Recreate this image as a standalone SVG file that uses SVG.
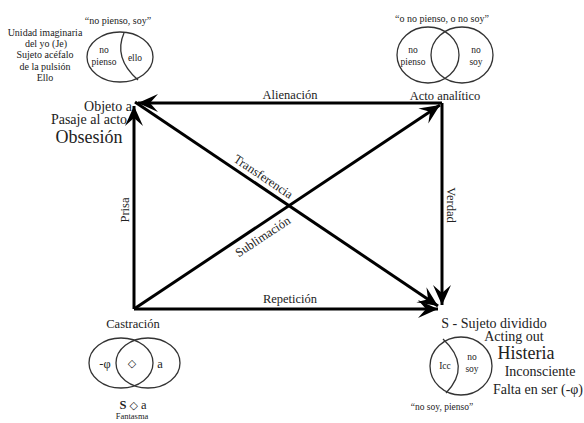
<svg xmlns="http://www.w3.org/2000/svg" width="584" height="423" viewBox="0 0 584 423" font-family="'Liberation Serif', 'Times New Roman', 'DejaVu Serif', serif">
<style>
text{font-family:"Liberation Serif","Times New Roman","DejaVu Serif",serif;fill:#222;}
.c{fill:none;stroke:#333;stroke-width:1.3;}
.e{stroke:#000;stroke-width:3;fill:none;}
.s9{font-size:9.5px;}
.s10{font-size:10px;}
.s12{font-size:12.5px;}
.s14{font-size:14px;}
.s18{font-size:18px;}
.dm{font-family:"DejaVu Sans",sans-serif;font-size:11px;}
</style>
<defs>
<marker id="ah" markerUnits="userSpaceOnUse" markerWidth="26" markerHeight="22" viewBox="-22 -11 26 22" refX="0" refY="0" orient="auto">
<path d="M0,0 L-20,-9 L-12,0 L-20,9 Z" fill="#000"/>
</marker>
</defs>
<g id="connectors">
<line class="e" x1="442" y1="103" x2="138" y2="103" marker-end="url(#ah)"/>
<line class="e" x1="134" y1="309" x2="134" y2="106" marker-end="url(#ah)"/>
<line class="e" x1="135" y1="102" x2="438" y2="306" marker-end="url(#ah)"/>
<line class="e" x1="134" y1="309" x2="440" y2="105" marker-end="url(#ah)"/>
<line class="e" x1="442" y1="103" x2="442" y2="305" marker-end="url(#ah)"/>
<line class="e" x1="134" y1="309" x2="438" y2="309" marker-end="url(#ah)"/>
<text class="s12" x="290" y="99" text-anchor="middle">Alienación</text>
<text class="s12" x="290" y="303" text-anchor="middle">Repetición</text>
<text class="s12" transform="translate(129,210) rotate(-90)" text-anchor="middle">Prisa</text>
<text class="s12" transform="translate(447,205) rotate(90)" text-anchor="middle">Verdad</text>
<text class="s12" transform="translate(261,180) rotate(33.8)" text-anchor="middle">Transferencia</text>
<text class="s12" transform="translate(265,240) rotate(-33.5)" text-anchor="middle">Sublimación</text>
</g>
<g id="node-objeto">
<text class="s10" x="118" y="24" text-anchor="middle">“no pienso, soy”</text>
<ellipse class="c" cx="120" cy="57" rx="33" ry="25"/>
<path class="c" d="M124,33 Q113,58 138,80"/>
<text class="s9" x="104" y="53" text-anchor="middle">no</text>
<text class="s9" x="104" y="65" text-anchor="middle">pienso</text>
<text class="s9" x="135" y="61" text-anchor="middle">ello</text>
<text class="s10" x="45" y="36" text-anchor="middle">Unidad imaginaria</text>
<text class="s10" x="46" y="47" text-anchor="middle">del yo (Je)</text>
<text class="s10" x="45" y="58" text-anchor="middle">Sujeto acéfalo</text>
<text class="s10" x="45" y="70" text-anchor="middle">de la pulsión</text>
<text class="s10" x="45" y="81" text-anchor="middle">Ello</text>
<text class="s14" x="108" y="111" text-anchor="middle">Objeto a</text>
<text class="s14" x="89" y="124" text-anchor="middle">Pasaje al acto</text>
<text class="s18" x="89" y="143" text-anchor="middle">Obsesión</text>
</g>
<g id="node-acto">
<text class="s10" x="442" y="22" text-anchor="middle">“o no pienso, o no soy”</text>
<ellipse class="c" cx="428" cy="55" rx="31" ry="28"/>
<ellipse class="c" cx="462" cy="55" rx="31" ry="28"/>
<text class="s9" x="413" y="53" text-anchor="middle">no</text>
<text class="s9" x="413" y="65" text-anchor="middle">pienso</text>
<text class="s9" x="476" y="53" text-anchor="middle">no</text>
<text class="s9" x="476" y="65" text-anchor="middle">soy</text>
<text class="s12" x="445" y="100" text-anchor="middle">Acto analítico</text>
</g>
<g id="node-castracion">
<text class="s12" x="133" y="328" text-anchor="middle">Castración</text>
<ellipse class="c" cx="121" cy="363" rx="32" ry="25"/>
<ellipse class="c" cx="148" cy="363" rx="32" ry="25"/>
<text class="s12" x="105" y="368" text-anchor="middle">-φ</text>
<text class="dm" x="132" y="367" text-anchor="middle">◇</text>
<text class="s12" x="160" y="368" text-anchor="middle">a</text>
<text class="s12" x="133" y="409" text-anchor="middle"><tspan font-weight="bold">S</tspan> <tspan class="dm">◇</tspan> a</text>
<text x="132" y="419" text-anchor="middle" style="font-size:8.5px">Fantasma</text>
</g>
<g id="node-sujeto">
<text class="s14" x="494" y="328" text-anchor="middle">S - Sujeto dividido</text>
<text class="s14" x="514" y="341" text-anchor="middle">Acting out</text>
<text class="s18" x="526" y="359" text-anchor="middle">Histeria</text>
<text class="s14" x="540" y="376" text-anchor="middle">Inconsciente</text>
<text class="s14" x="538" y="394" text-anchor="middle">Falta en ser (-φ)</text>
<ellipse class="c" cx="461" cy="366" rx="31" ry="29"/>
<path class="c" d="M443,339 Q472,366 446,393"/>
<text class="s9" x="445" y="369" text-anchor="middle">Icc</text>
<text class="s9" x="472" y="360" text-anchor="middle">no</text>
<text class="s9" x="472" y="372" text-anchor="middle">soy</text>
<text class="s9" x="442" y="410" text-anchor="middle">“no soy, pienso”</text>
</g>
</svg>
